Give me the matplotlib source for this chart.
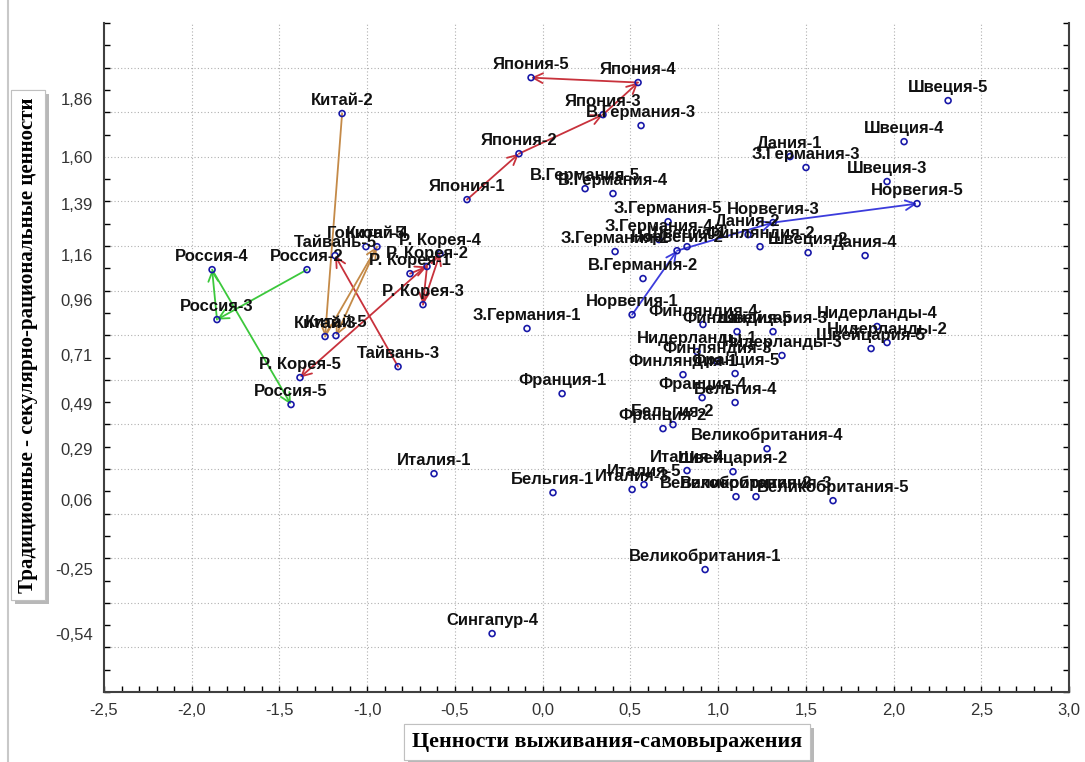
import matplotlib
matplotlib.use("Agg")
import matplotlib.pyplot as plt
import matplotlib.patheffects as pe
from matplotlib.lines import Line2D
from matplotlib.ticker import MultipleLocator
import numpy as np

# country-wave points (survival/self-expression, traditional/secular-rational)
point_labels = [
    "Япония-1", "Япония-2", "Япония-3", "Япония-4", "Япония-5",
    "Россия-2", "Россия-3", "Россия-4", "Россия-5",
    "Р. Корея-1", "Р. Корея-2", "Р. Корея-3", "Р. Корея-4", "Р. Корея-5",
    "Тайвань-3", "Тайвань-5",
    "Китай-2", "Китай-3", "Китай-4", "Китай-5", "Гонконг-5",
    "Норвегия-1", "Норвегия-2", "Норвегия-3", "Норвегия-5",
    "Швеция-1", "Швеция-2", "Швеция-3", "Швеция-4", "Швеция-5",
    "Дания-1", "Дания-2", "Дания-4",
    "З.Германия-1", "З.Германия-2", "З.Германия-3", "З.Германия-4", "З.Германия-5",
    "В.Германия-2", "В.Германия-3", "В.Германия-4", "В.Германия-5",
    "Финляндия-1", "Финляндия-2", "Финляндия-3", "Финляндия-4", "Финляндия-5",
    "Нидерланды-1", "Нидерланды-2", "Нидерланды-3", "Нидерланды-4",
    "Швейцария-2", "Швейцария-3", "Швейцария-5",
    "Франция-1", "Франция-2", "Франция-4", "Франция-5",
    "Бельгия-1", "Бельгия-2", "Бельгия-4",
    "Великобритания-1", "Великобритания-2", "Великобритания-3",
    "Великобритания-4", "Великобритания-5",
    "Италия-1", "Италия-3", "Италия-4", "Италия-5",
    "Сингапур-4",
]
x_vals = [
    -0.431, -0.135, 0.344, 0.544, -0.066,
    -1.343, -1.856, -1.884, -1.434,
    -0.756, -0.659, -0.682, -0.585, -1.383,
    -0.824, -1.183,
    -1.143, -1.240, -0.944, -1.178, -1.007,
    0.510, 0.766, 1.313, 2.134,
    0.823, 1.513, 1.963, 2.060, 2.311,
    1.410, 1.171, 1.838,
    -0.089, 0.413, 1.501, 0.663, 0.715,
    0.572, 0.561, 0.401, 0.242,
    0.800, 1.239, 0.994, 0.914, 1.108,
    0.880, 1.963, 1.364, 1.906,
    1.085, 1.313, 1.872,
    0.111, 0.686, 0.909, 1.097,
    0.059, 0.743, 1.097,
    0.926, 1.102, 1.216, 1.279, 1.655,
    -0.619, 0.510, 0.823, 0.578,
    -0.288,
]
y_vals = [
    1.408, 1.614, 1.789, 1.933, 1.955,
    1.094, 0.870, 1.094, 0.489,
    1.076, 1.108, 0.937, 1.166, 0.610,
    0.659, 1.157,
    1.794, 0.794, 1.197, 0.798, 1.197,
    0.892, 1.179, 1.305, 1.390,
    1.197, 1.170, 1.489, 1.668, 1.852,
    1.601, 1.251, 1.157,
    0.830, 1.175, 1.552, 1.229, 1.309,
    1.054, 1.740, 1.435, 1.457,
    0.623, 1.197, 0.682, 0.848, 0.816,
    0.726, 0.767, 0.709, 0.839,
    0.188, 0.816, 0.740,
    0.538, 0.381, 0.520, 0.628,
    0.094, 0.399, 0.498,
    -0.251, 0.076, 0.076, 0.291, 0.058,
    0.179, 0.108, 0.193, 0.130,
    -0.538,
]

# trajectories drawn as arrows between waves
japan_path = ["Япония-1", "Япония-2", "Япония-3", "Япония-4", "Япония-5"]
russia_path = ["Россия-2", "Россия-3", "Россия-4", "Россия-5"]
korea_path = ["Р. Корея-1", "Р. Корея-2", "Р. Корея-3", "Р. Корея-4", "Р. Корея-5"]
taiwan_path = ["Тайвань-3", "Тайвань-5"]
china_path = ["Китай-2", "Китай-3", "Китай-4", "Китай-5"]
norway_path = ["Норвегия-1", "Норвегия-2", "Норвегия-3", "Норвегия-5"]

x_ticks = [-2.5, -2.0, -1.5, -1.0, -0.5, 0.0, 0.5, 1.0, 1.5, 2.0, 2.5, 3.0]
y_ticks = [1.86, 1.60, 1.39, 1.16, 0.96, 0.71, 0.49, 0.29, 0.06, -0.25, -0.54]

x_title = "Ценности выживания-самовыражения"
y_title = "Традиционные - секулярно-рациональные ценности"

W, H = 1085, 762
fig = plt.figure(figsize=(W / 100, H / 100), dpi=100)
fig.patch.set_facecolor("white")
ax = fig.add_axes([104 / W, 70 / H, (1069 - 104) / W, (739 - 70) / H])
ax.set_xlim(-2.5, 3.0)
ax.set_ylim(-0.8, 2.2)

grid_style = dict(color="#b0b0b0", lw=0.8, ls=(0, (1, 2)), zorder=0)
for gx in np.arange(-2.0, 2.51, 0.5):
    ax.axvline(gx, **grid_style)
for gy in np.arange(-0.6, 2.01, 0.2):
    ax.axhline(gy, **grid_style)

pos = {lab: (x, y) for lab, x, y in zip(point_labels, x_vals, y_vals)}

paths = [
    (japan_path, "#c8323c"),
    (korea_path, "#c8323c"),
    (taiwan_path, "#c8323c"),
    (china_path, "#c48a48"),
    (russia_path, "#3cc83c"),
    (norway_path, "#3c3cdc"),
]
for names, color in paths:
    for a, b in zip(names[:-1], names[1:]):
        ax.annotate("", xy=pos[b], xytext=pos[a],
                    arrowprops=dict(arrowstyle="->,head_length=0.7,head_width=0.35",
                                    color=color, lw=1.3, shrinkA=0, shrinkB=0),
                    zorder=2)

ax.scatter(x_vals, y_vals, s=18, facecolors="none", edgecolors="#1818a8",
           linewidths=1.2, zorder=3)

for lab, x, y in zip(point_labels, x_vals, y_vals):
    ax.annotate(lab, (x, y), xytext=(0, 4), textcoords="offset points",
                ha="center", va="bottom", fontsize=12, fontweight="bold",
                family="Liberation Sans", color="#111111", zorder=4)

ax.set_xticks(x_ticks, [f"{v:.1f}".replace(".", ",") for v in x_ticks])
ax.xaxis.set_minor_locator(MultipleLocator(0.1))
ax.tick_params(axis="x", which="both", direction="in", length=4, width=1,
               pad=8, labelsize=12, labelcolor="#333333")

ax.set_yticks(y_ticks, [f"{v:.2f}".replace(".", ",") for v in y_ticks])
ax.yaxis.set_minor_locator(MultipleLocator(0.1))
ax.tick_params(axis="y", which="major", length=0, pad=8, labelsize=12,
               labelcolor="#333333")
ax.tick_params(axis="y", which="minor", direction="in", length=4, width=1,
               left=True, right=True)
for lbl in ax.get_xticklabels() + ax.get_yticklabels():
    lbl.set_family("Liberation Sans")

ax.spines["top"].set_visible(False)
for side in ("left", "right", "bottom"):
    ax.spines[side].set_color("#404040")
    ax.spines[side].set_linewidth(1.5)

box = dict(boxstyle="square,pad=0.35", facecolor="white", edgecolor="#c0c0c0", lw=0.8)
shadow = [pe.withSimplePatchShadow(offset=(3, -3), shadow_rgbFace="#9a9a9a", alpha=0.7),
          pe.Normal()]

tx = fig.text(607 / W, 1 - 742 / H, x_title, ha="center", va="center",
              fontsize=15.8, fontweight="bold", family="Liberation Serif", bbox=box)
tx.get_bbox_patch().set_path_effects(shadow)
ty = fig.text(28 / W, 1 - 345 / H, y_title, ha="center", va="center", rotation=90,
              fontsize=15, fontweight="bold", family="Liberation Serif", bbox=box)
ty.get_bbox_patch().set_path_effects(shadow)

fig.add_artist(Line2D([8 / W, 8 / W], [0, 1], color="#c8c8c8", lw=1.5))

fig.savefig("out.png", dpi=100)
